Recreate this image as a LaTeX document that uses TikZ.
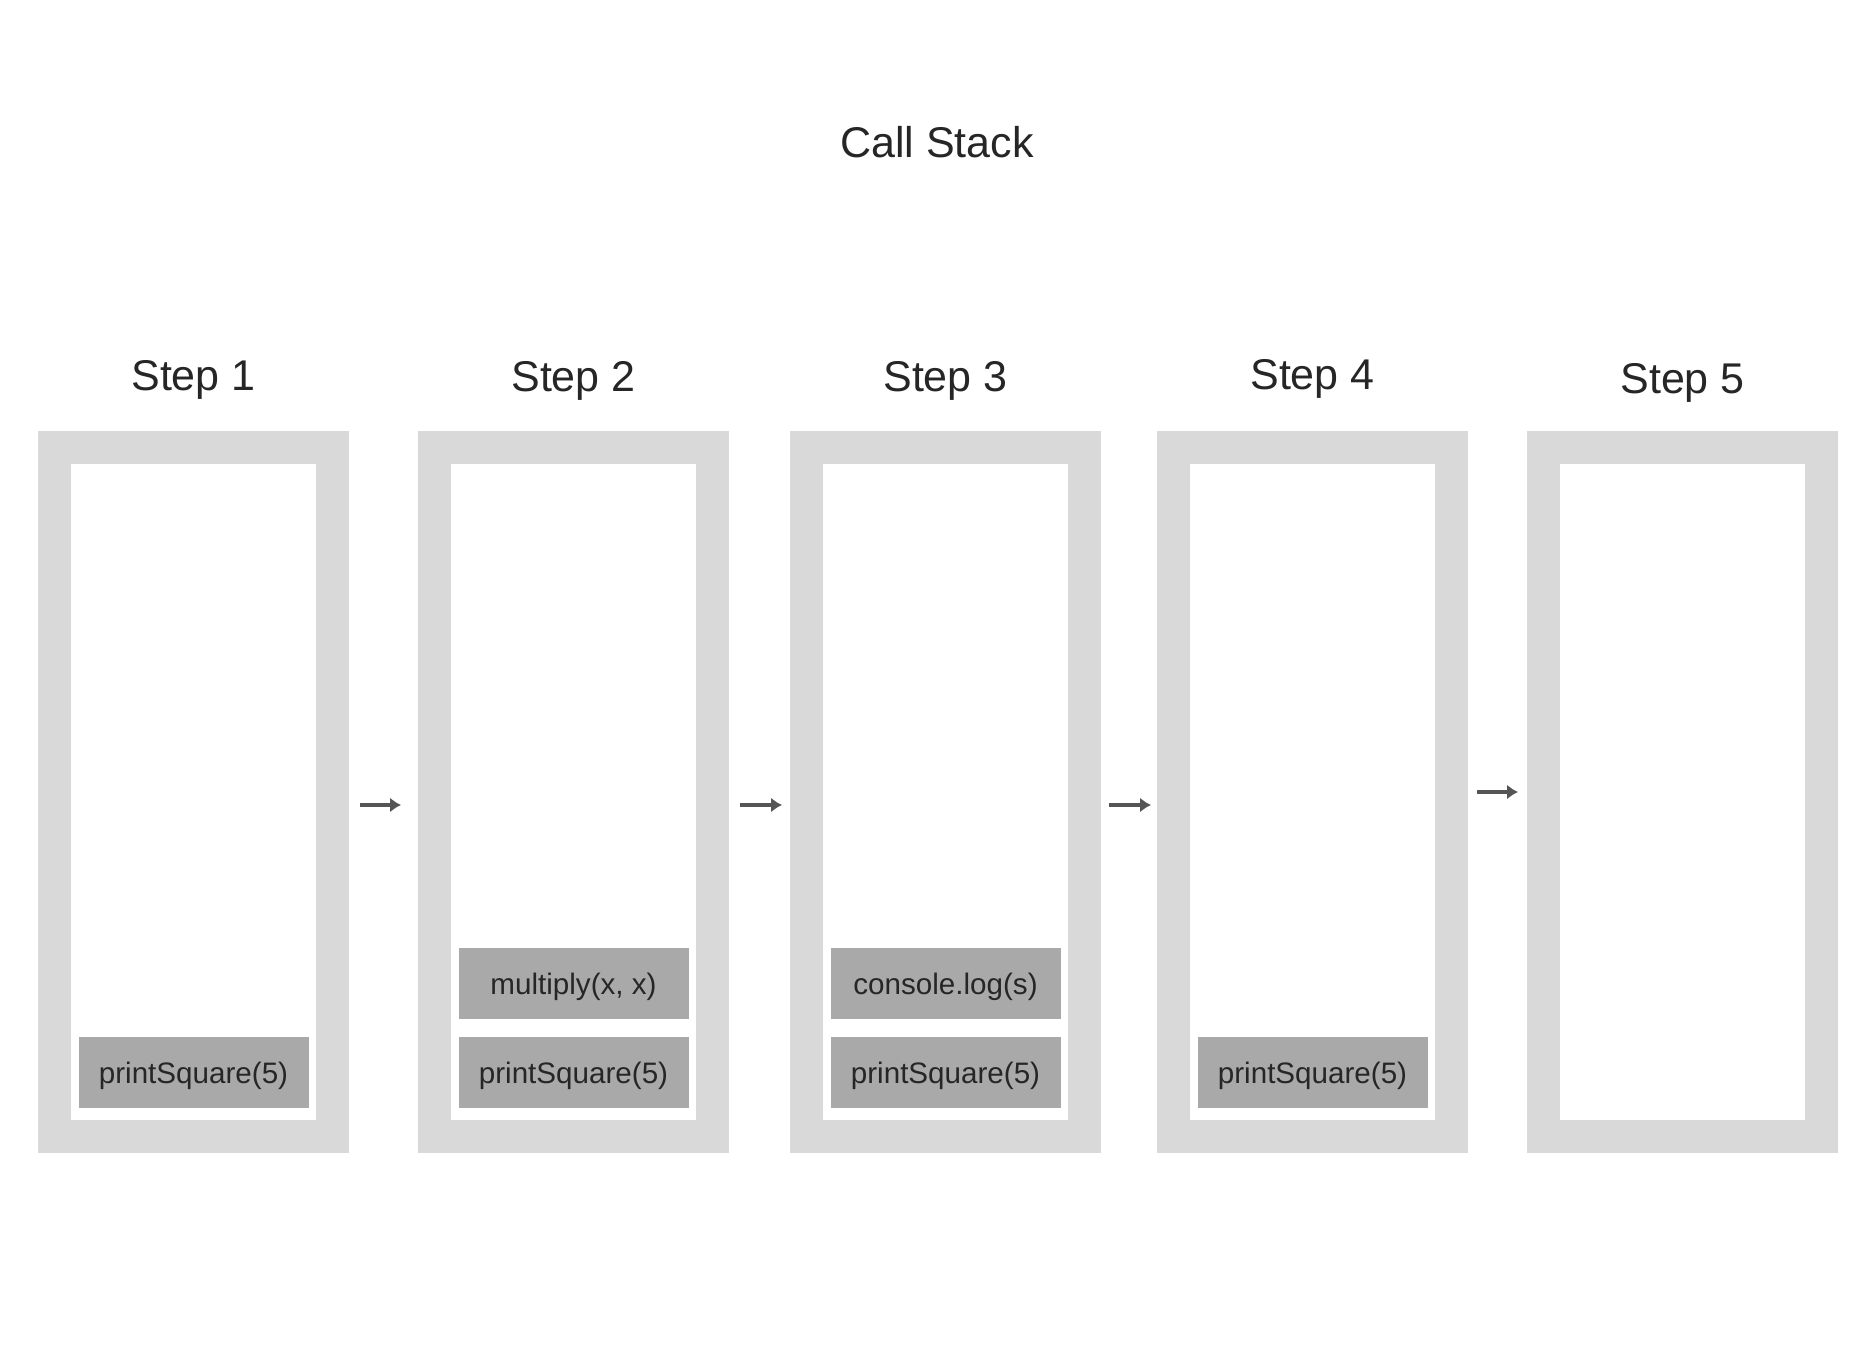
\documentclass[tikz,border=0pt]{standalone}
\usepackage{fontspec}
\setmainfont{Liberation Sans}
\usetikzlibrary{positioning,arrows.meta}
\definecolor{stackgray}{HTML}{D9D9D9}
\definecolor{framegray}{HTML}{A9A9A9}
\definecolor{textgray}{HTML}{262626}
\definecolor{arrowgray}{HTML}{555555}

\begin{document}
\begin{tikzpicture}[x=0.5pt, y=-0.5pt,
  every node/.style={align=center, text=textgray},
  stackbox/.style={draw=stackgray, line width=16.5pt, fill=white, minimum width=139pt, minimum height=344.5pt, inner sep=0pt},
  frame/.style={fill=framegray, minimum width=115pt, minimum height=35.5pt, inner sep=0pt, text height=12pt, text depth=0.7pt, font=\fontsize{14.8}{18}\selectfont},
  steplabel/.style={font=\fontsize{21.5}{26}\selectfont},
  arr/.style={-{Latex[length=5.5pt,width=7.5pt]}, line width=1.6pt, draw=arrowgray}]

\useasboundingbox (0,0) rectangle (1866,1350);

% Title
\node[steplabel] (title) at (937,142) {Call Stack};

% Stacks
\node[stackbox] (s1) at (193.5,792) {};
\node[stackbox] (s2) at (573.5,792) {};
\node[stackbox] (s3) at (945.5,792) {};
\node[stackbox] (s4) at (1312.5,792) {};
\node[stackbox] (s5) at (1682.5,792) {};

% Labels
\node[steplabel] (l1) at (193.5,380) {Step 1};
\node[steplabel] (l2) at (573.5,381) {Step 2};
\node[steplabel] (l3) at (945.5,381) {Step 3};
\node[steplabel] (l4) at (1312.5,379) {Step 4};
\node[steplabel] (l5) at (1682.5,383) {Step 5};

% Frames
\node[frame, above=22.5pt of s1.south] (f1a) {printSquare(5)};
\node[frame, above=22.5pt of s2.south] (f2a) {printSquare(5)};
\node[frame, above=8.5pt of f2a] (f2b) {multiply(x, x)};
\node[frame, above=22.5pt of s3.south] (f3a) {printSquare(5)};
\node[frame, above=8.5pt of f3a] (f3b) {console.log(s)};
\node[frame, above=22.5pt of s4.south] (f4a) {printSquare(5)};

% Edges
\draw[arr, shorten <=5.5pt, shorten >=8.5pt] ([yshift=-6.5pt]s1.east) -- ([yshift=-6.5pt]s2.west);
\draw[arr, shorten <=5.5pt, shorten >=4pt] ([yshift=-6.5pt]s2.east) -- ([yshift=-6.5pt]s3.west);
\draw[arr, shorten <=4pt, shorten >=3pt] ([yshift=-6.5pt]s3.east) -- ([yshift=-6.5pt]s4.west);
\draw[arr, shorten <=4.5pt, shorten >=4.5pt] (s4.east) -- (s5.west);

\end{tikzpicture}
\end{document}
